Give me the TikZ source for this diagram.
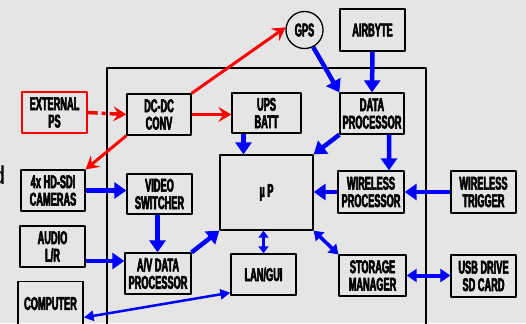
\documentclass[tikz,border=0pt]{standalone}
\usepackage{fontspec}
\newfontfamily\boxfont[FakeStretch=0.5,FakeBold=3]{Liberation Sans}
\newfontfamily\slidefont{Liberation Sans}
\usepackage{tikz}
\usetikzlibrary{%
arrows.meta,
shapes,
backgrounds}
\definecolor{bgcol}{rgb}{0.90,0.90,0.90}
\definecolor{pwrcol}{rgb}{1.0,0.0,0.0}
\definecolor{sigcol}{rgb}{0.0,0.0,1.0}
\tikzset{
  blockbox/.style={draw=black,line width=1.3bp,minimum width=65bp,minimum height=41bp,
    inner sep=0pt,align=center,font=\boxfont\bfseries\fontsize{18.5}{17.5}\selectfont},
  pwr/.style={draw=pwrcol,line width=3.5bp,-{Stealth[length=13bp,width=15bp,inset=5bp]}},
  sig/.style={draw=sigcol,line width=4.5bp,-{Triangle[length=12bp,width=16bp]}},
  sigboth/.style={draw=sigcol,line width=3.5bp,{Triangle[length=9bp,width=12bp]}-{Triangle[length=9bp,width=12bp]}},
}

\begin{document}
\begin{tikzpicture}[x=1bp,y=-1bp,line join=bevel]
  \useasboundingbox (0,0) rectangle (526,323);
  \fill[bgcol] (0,0) rectangle (526,323);
  \node[anchor=east,font=\slidefont\fontsize{26}{26}\selectfont] (slidetxt) at (9,175) {d};
%%
  % Frame
  \draw[line width=1.3bp] (107,68) rectangle (426,345);
  % Node: extps
  \node[blockbox,draw=pwrcol] (extps) at (54.5,112.5) {EXTERNAL\\PS};
  % Node: dcdc
  \node[blockbox,minimum width=64bp] (dcdc) at (159,114.5) {DC-DC\\CONV};
  % Node: ups
  \node[blockbox,minimum width=69bp,minimum height=40bp] (ups) at (266.5,113) {UPS\\BATT};
  % Node: gps
  \node[blockbox,circle,minimum width=37bp,minimum height=37bp] (gps) at (304.5,30) {GPS};
  % Node: airbyte
  \node[blockbox,minimum height=42bp] (airbyte) at (372.5,30) {AIRBYTE};
  % Node: dataproc
  \node[blockbox,minimum width=64bp] (dataproc) at (372,113.5) {DATA\\PROCESSOR};
  % Node: up
  \node[blockbox,minimum width=93bp,minimum height=75bp] (up) at (266.5,192.5) {µ P};
  % Node: cameras
  \node[blockbox,minimum width=64bp] (cameras) at (53,190.5) {4x HD-SDI\\CAMERAS};
  % Node: vidsw
  \node[blockbox,minimum height=40bp] (vidsw) at (159.5,194) {VIDEO\\SWITCHER};
  % Node: audio
  \node[blockbox] (audio) at (52.5,246.5) {AUDIO\\L/R};
  % Node: avdp
  \node[blockbox,minimum width=66bp] (avdp) at (158,273.5) {A/V DATA\\PROCESSOR};
  % Node: computer
  \node[blockbox,minimum height=44bp] (computer) at (50.5,303.5) {COMPUTER};
  % Node: langui
  \node[blockbox] (langui) at (263.5,274.5) {LAN/GUI};
  % Node: wproc
  \node[blockbox,minimum width=66bp,minimum height=42bp] (wproc) at (371,192) {WIRELESS\\PROCESSOR};
  % Node: wtrig
  \node[blockbox,minimum height=42bp] (wtrig) at (483.5,192) {WIRELESS\\TRIGGER};
  % Node: storage
  \node[blockbox,minimum width=67bp] (storage) at (372.5,275.5) {STORAGE\\MANAGER};
  % Node: usb
  \node[blockbox,minimum height=42bp] (usb) at (483.5,276) {USB DRIVE\\SD CARD};
%%
  % Edge: extps -> dcdc
  \draw[pwr,dash pattern=on 10bp off 4bp on 4bp off 4bp] (extps.east) -- (dcdc.west);
  % Edge: dcdc -> ups
  \draw[pwr] (dcdc.east) -- (dcdc.east -| ups.west);
  % Edge: dcdc -> gps
  \draw[pwr,line width=3bp] (dcdc.north east) -- (gps.172);
  % Edge: dcdc -> cameras
  \draw[pwr,line width=3bp] (dcdc.south west) -- (cameras.north east);
  % Edge: gps -> dataproc
  \draw[sig] (gps.-63) -- (dataproc.north west);
  % Edge: airbyte -> dataproc
  \draw[sig] (airbyte.south) -- (dataproc.north);
  % Edge: dataproc -> up
  \draw[sig] (dataproc.south west) -- (up.north east);
  % Edge: dataproc -> wproc
  \draw[sig] ([xshift=17bp]dataproc.south) -- ([xshift=18bp]wproc.north);
  % Edge: ups -> up
  \draw[sig] ([xshift=-23bp]ups.south) -- ([xshift=-23bp]up.north);
  % Edge: wproc -> up
  \draw[sig] (wproc.west) -- (wproc.west -| up.east);
  % Edge: wtrig -> wproc
  \draw[sig] (wtrig.west) -- (wproc.east);
  % Edge: cameras -> vidsw
  \draw[sig] (cameras.east) -- (cameras.east -| vidsw.west);
  % Edge: vidsw -> avdp
  \draw[sig] ([xshift=-2bp]vidsw.south) -- ([xshift=-2bp]vidsw.south |- avdp.north);
  % Edge: audio -> avdp
  \draw[sig] ([yshift=-14.5bp]audio.east) -- ([yshift=-14.5bp]audio.east -| avdp.west);
  % Edge: avdp -> up
  \draw[sig] (avdp.north east) -- (up.south west);
  % Edge: up <-> langui
  \draw[sigboth,line width=2.5bp,{Triangle[length=7bp,width=10bp]}-{Triangle[length=7bp,width=10bp]}] (langui.north |- up.south) -- (langui.north);
  % Edge: up <-> storage
  \draw[sigboth] (up.south east) -- (storage.north west);
  % Edge: storage <-> usb
  \draw[sigboth,line width=4bp,{Triangle[length=10bp,width=13bp]}-{Triangle[length=10bp,width=13bp]}] (storage.east) -- (storage.east -| usb.west);
  % Edge: langui <-> computer
  \draw[sigboth,line width=2.5bp,{Triangle[length=10bp,width=10bp]}-{Triangle[length=10bp,width=10bp]}] ([yshift=3bp]langui.south west) -- ([yshift=-14bp]computer.east);
%
\end{tikzpicture}
\end{document}
